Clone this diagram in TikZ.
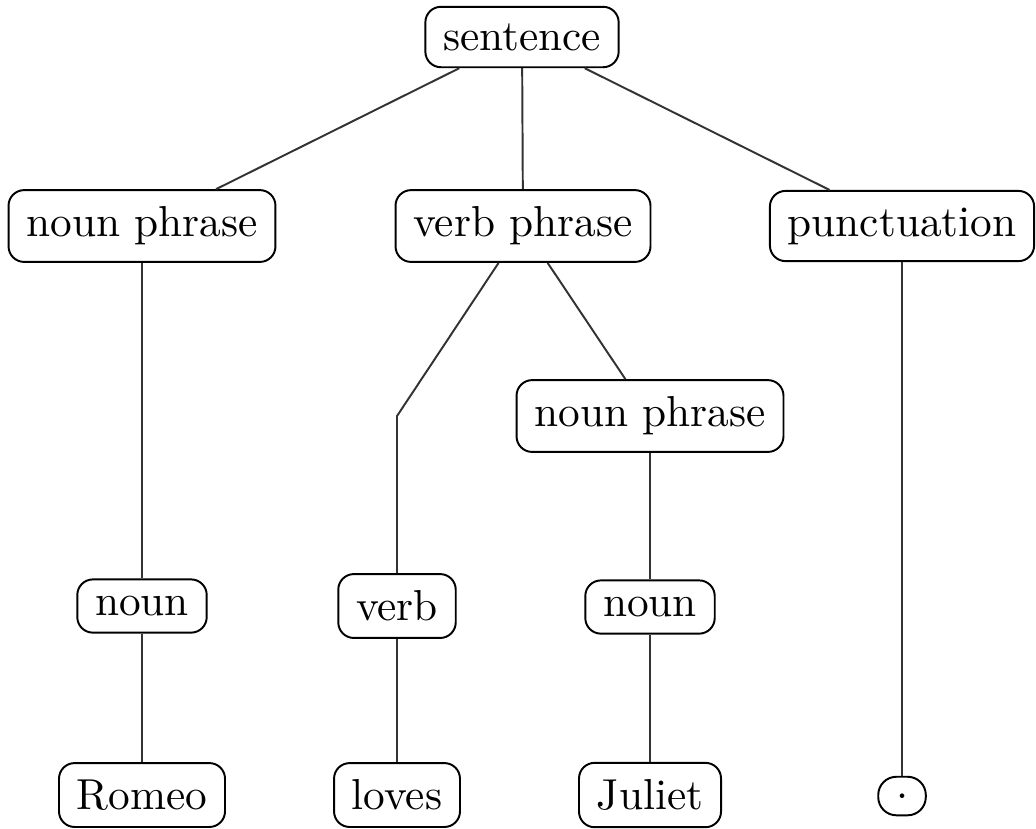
\documentclass[tikz,border=0pt]{standalone}
\begin{document}
\begin{tikzpicture}[x=0.2309pt,y=-0.2309pt,
  tn/.style={draw,rounded corners=3.6pt,inner xsep=4.1pt,inner ysep=3.85pt,line width=0.45pt},
  edge/.style={line width=0.45pt,draw=black!80}]
\useasboundingbox (0,0) rectangle (1036,828);
\node[tn] (s) at (522,37) {sentence};
\node[tn] (np1) at (142,226) {noun phrase};
\node[tn] (vp) at (523,226) {verb phrase};
\node[tn] (pu) at (902,226) {punctuation};
\node[tn] (np2) at (650,416) {noun phrase};
\node[tn] (n1) at (142,606) {noun};
\node[tn] (v) at (397,606) {verb};
\node[tn] (n2) at (650,607) {noun};
\node[tn] (ro) at (142,795) {Romeo};
\node[tn] (lo) at (397,795) {loves};
\node[tn] (ju) at (650,795) {Juliet};
\node[tn,minimum width=10.9pt,minimum height=8.9pt,rounded corners=4.2pt] (dot) at (902,796) {.};
\coordinate (k) at (397,416);
\draw[edge] (s) -- (np1);
\draw[edge] (s) -- (vp);
\draw[edge] (s) -- (pu);
\draw[edge] (np1) -- (n1);
\draw[edge] (n1) -- (ro);
\draw[edge] (vp) -- (k) -- (v);
\draw[edge] (v) -- (lo);
\draw[edge] (vp) -- (np2);
\draw[edge] (np2) -- (n2);
\draw[edge] (n2) -- (ju);
\draw[edge] (pu) -- (dot);
\end{tikzpicture}
\end{document}
